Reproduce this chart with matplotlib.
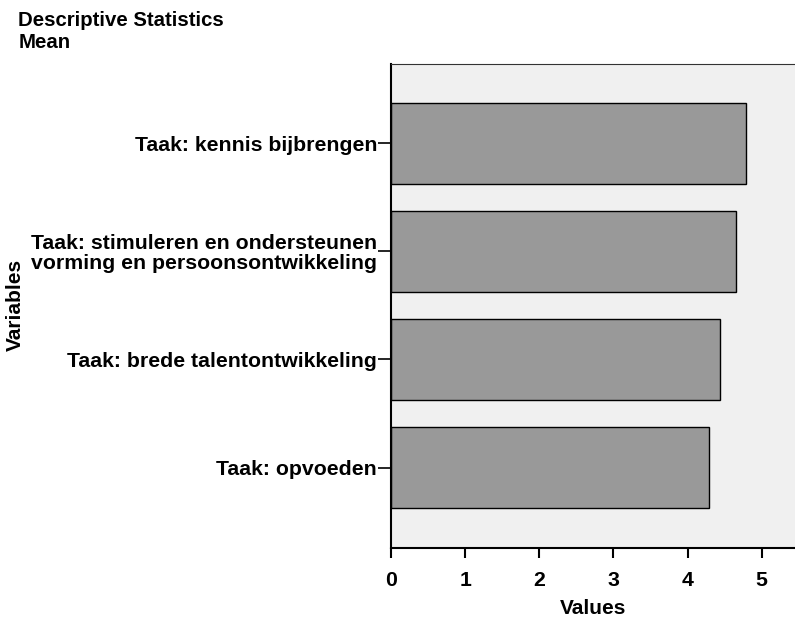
import matplotlib
matplotlib.use("Agg")
import matplotlib.pyplot as plt
import numpy as np

plt.rcParams['font.family'] = ['Liberation Sans', 'DejaVu Sans']
plt.rcParams['font.weight'] = 'bold'

# Data (top to bottom)
variables = ["Taak: kennis bijbrengen",
             "Taak: stimuleren en ondersteunen\nvorming en persoonsontwikkeling",
             "Taak: brede talentontwikkeling",
             "Taak: opvoeden"]
means = [4.79, 4.66, 4.44, 4.29]

fig = plt.figure(figsize=(7.95, 6.17), dpi=100)
ax = fig.add_axes([0.4918, 0.1118, 0.5082, 0.7845])
ax.set_facecolor('#f0f0f0')

pos = np.arange(len(variables))[::-1]
ax.barh(pos, means, height=0.75, color='#999999', edgecolor='black', linewidth=1)

ax.set_xlim(0, 5.45)
ax.set_ylim(-0.745, 3.735)
ax.set_xticks(range(6))
ax.set_yticks(pos)
ax.set_yticklabels(variables, fontsize=15.3, fontweight='bold', ha='right',
                   multialignment='left', linespacing=1.05)
for lab in ax.get_xticklabels():
    lab.set_fontsize(15.3)
    lab.set_fontweight('bold')

ax.tick_params(axis='x', length=7.2, width=1.5, pad=9)
ax.tick_params(axis='y', length=9.4, width=1.2, pad=0.5)

ax.spines['left'].set_linewidth(1.5)
ax.spines['bottom'].set_linewidth(1.5)
ax.spines['top'].set_linewidth(0.8)
ax.spines['top'].set_color('#333333')
ax.spines['right'].set_visible(False)

ax.set_xlabel("Values", fontsize=15, fontweight='bold', labelpad=7)
fig.text(0.019, 0.506, "Variables", fontsize=15, fontweight='bold',
         rotation=90, ha='center', va='center')

fig.text(0.023, 0.982, "Descriptive Statistics\nMean", fontsize=14.7,
         fontweight='bold', va='top', ha='left', linespacing=1.2)

fig.savefig("out.png", dpi=100)
